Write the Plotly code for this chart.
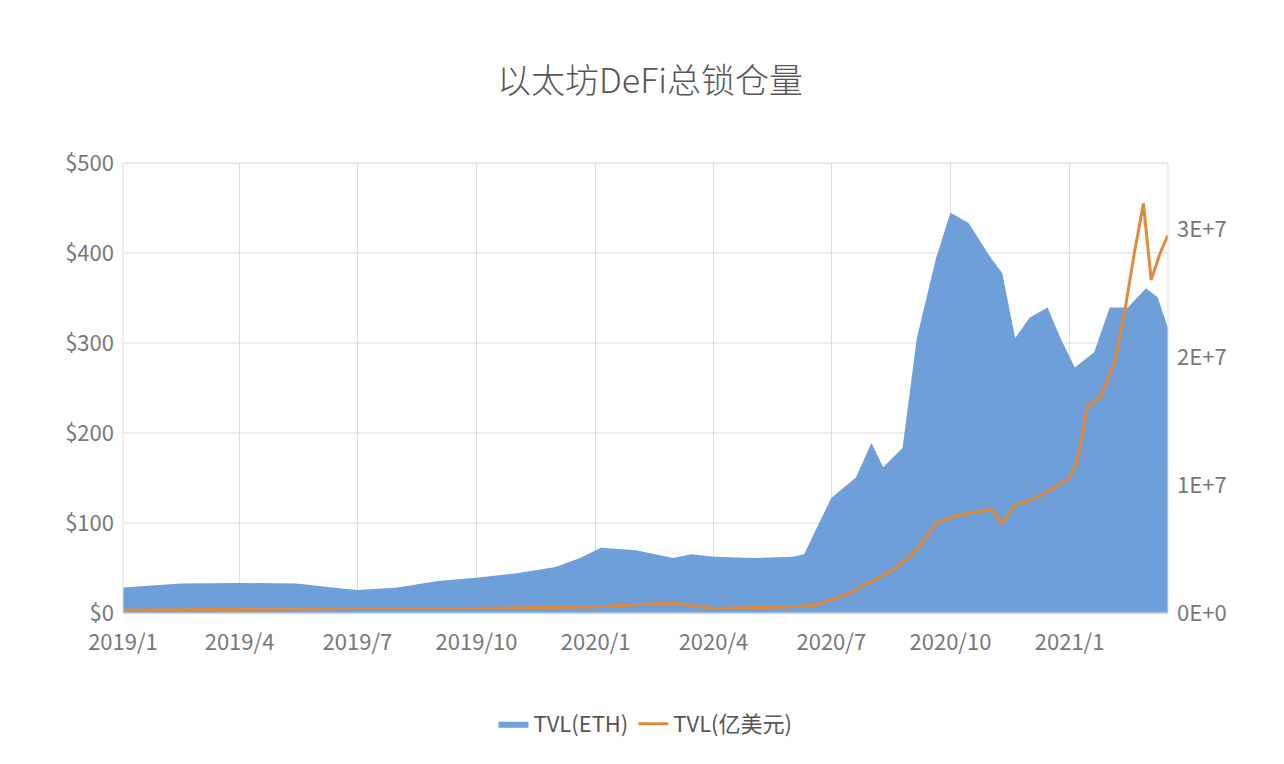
import plotly.graph_objects as go

eth_dates = ["2019-01-01","2019-02-15","2019-04-01","2019-05-15","2019-06-15","2019-07-01","2019-08-01","2019-09-01","2019-10-01","2019-11-01","2019-12-01","2019-12-20","2020-01-05","2020-02-01","2020-03-01","2020-03-15","2020-04-01","2020-05-01","2020-06-01","2020-06-10","2020-06-20","2020-07-01","2020-07-20","2020-08-01","2020-08-10","2020-08-25","2020-09-05","2020-09-20","2020-10-01","2020-10-15","2020-11-01","2020-11-10","2020-11-20","2020-12-01","2020-12-15","2020-12-25","2021-01-05","2021-01-20","2021-02-01","2021-02-15","2021-03-01","2021-03-10","2021-03-18"]
eth_vals = [2.0e6,2.3e6,2.35e6,2.3e6,1.95e6,1.8e6,2.0e6,2.5e6,2.75e6,3.1e6,3.6e6,4.3e6,5.1e6,4.9e6,4.3e6,4.6e6,4.4e6,4.3e6,4.4e6,4.6e6,6.7e6,9.0e6,10.6e6,13.3e6,11.4e6,12.9e6,21.5e6,27.8e6,31.3e6,30.5e6,27.8e6,26.6e6,21.5e6,23.1e6,23.9e6,21.5e6,19.2e6,20.4e6,23.9e6,23.9e6,25.4e6,24.7e6,22.3e6]

usd_dates = ["2019-01-01","2019-04-01","2019-07-01","2019-10-01","2020-01-01","2020-03-01","2020-04-01","2020-06-01","2020-06-20","2020-07-15","2020-08-01","2020-08-20","2020-09-05","2020-09-20","2020-10-05","2020-10-20","2020-11-01","2020-11-10","2020-11-20","2020-12-01","2020-12-15","2021-01-01","2021-01-07","2021-01-15","2021-01-25","2021-02-05","2021-02-12","2021-02-20","2021-02-27","2021-03-05","2021-03-12","2021-03-18"]
usd_vals = [3,4,5,5,7,11,5,7,9,22,35,50,70,100,108,112,115,100,120,125,135,150,170,230,240,280,330,400,455,370,400,420]

usd_ticks = [0, 100, 200, 300, 400, 500]
usd_ticktext = ["$0", "$100", "$200", "$300", "$400", "$500"]
eth_ticks = [0, 1e7, 2e7, 3e7]
eth_ticktext = ["0E+0", "1E+7", "2E+7", "3E+7"]
usd_max = 500
eth_max = 3.52e7

fig = go.Figure()
fig.add_trace(go.Scatter(x=eth_dates, y=eth_vals, name="TVL(ETH)", fill="tozeroy", mode="lines",
                         line=dict(color="#6f9fd8", width=0), fillcolor="#6f9fd8", yaxis="y"))
fig.add_trace(go.Scatter(x=usd_dates, y=usd_vals, name="TVL(亿美元)", mode="lines",
                         line=dict(color="#e08a3c", width=3), yaxis="y2"))
for v in usd_ticks:
    fig.add_shape(type="line", xref="paper", x0=0, x1=1, yref="y", y0=v / usd_max * eth_max, y1=v / usd_max * eth_max,
                  line=dict(color="#ddd", width=1), layer="below")
fig.update_layout(
    width=1284, height=764, plot_bgcolor="white", paper_bgcolor="white",
    margin=dict(l=115, r=124, t=155, b=159),
    font=dict(family="Noto Sans CJK SC", color="#777", size=22),
    title=dict(text="以太坊DeFi总锁仓量", x=0.5, y=0.92, xanchor="center", font=dict(size=34, color="#555", weight=300)),
    xaxis=dict(range=["2019-01-01","2021-03-18"], tickvals=["2019-01-01","2019-04-01","2019-07-01","2019-10-01","2020-01-01","2020-04-01","2020-07-01","2020-10-01","2021-01-01"],
               ticktext=["2019/1","2019/4","2019/7","2019/10","2020/1","2020/4","2020/7","2020/10","2021/1"],
               showgrid=True, gridcolor="#ddd", showline=True, linecolor="#ccc", ticklabelstandoff=10),
    yaxis=dict(range=[0, eth_max], side="right", tickvals=eth_ticks, ticktext=eth_ticktext, showgrid=False, zeroline=False,
               ticklabelstandoff=8),
    yaxis2=dict(range=[0, usd_max], overlaying="y", side="left", tickvals=usd_ticks, ticktext=usd_ticktext,
                showgrid=False, zeroline=False, ticklabelstandoff=8),
    legend=dict(orientation="h", x=0.5, xanchor="center", y=-0.2, yanchor="top", font=dict(size=22, color="#555")),
)
fig.add_shape(type="rect", xref="paper", yref="paper", x0=0, x1=1, y0=0, y1=1, line=dict(color="#ddd", width=1))
fig.write_html("out.html")
